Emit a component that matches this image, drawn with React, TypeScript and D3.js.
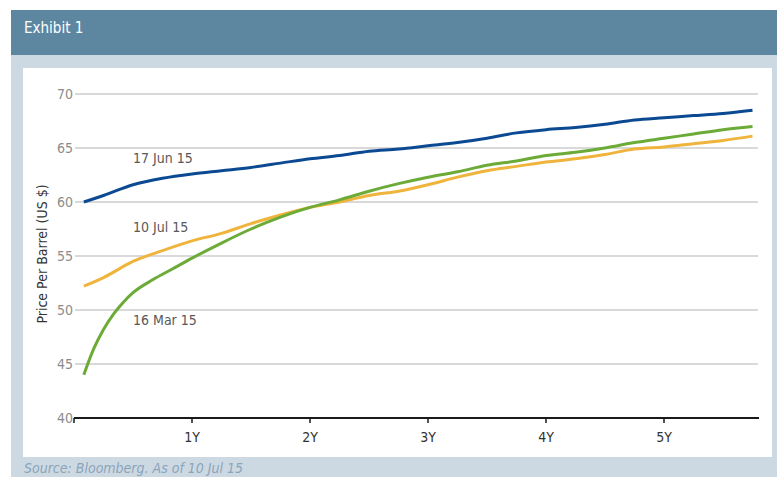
import * as d3 from "d3";
import { useEffect, useRef } from "react";

// contract month (months out from spot) and settlement curves, US$ per barrel
const months17Jun = [1, 3, 6, 9, 12, 15, 18, 21, 24, 27, 30, 33, 36, 39, 42, 45, 48, 51, 54, 57, 60, 63, 66, 69];
const prices17Jun = [60.0, 60.6, 61.6, 62.2, 62.6, 62.9, 63.2, 63.6, 64.0, 64.3, 64.7, 64.9, 65.2, 65.5, 65.9, 66.4, 66.7, 66.9, 67.2, 67.6, 67.8, 68.0, 68.2, 68.5];

const months10Jul = [1, 3, 6, 9, 12, 15, 18, 21, 24, 27, 30, 33, 36, 39, 42, 45, 48, 51, 54, 57, 60, 63, 66, 69];
const prices10Jul = [52.2, 53.0, 54.5, 55.5, 56.4, 57.1, 58.0, 58.8, 59.5, 60.0, 60.6, 61.0, 61.6, 62.3, 62.9, 63.3, 63.7, 64.0, 64.4, 64.9, 65.1, 65.4, 65.7, 66.1];

const months16Mar = [1, 2, 3, 4, 5, 6, 8, 10, 12, 15, 18, 21, 24, 27, 30, 33, 36, 39, 42, 45, 48, 51, 54, 57, 60, 63, 66, 69];
const prices16Mar = [44.0, 46.4, 48.2, 49.6, 50.7, 51.6, 52.8, 53.8, 54.8, 56.2, 57.5, 58.6, 59.5, 60.2, 61.0, 61.7, 62.3, 62.8, 63.4, 63.8, 64.3, 64.6, 65.0, 65.5, 65.9, 66.3, 66.7, 67.0];

const yTicks = [40, 45, 50, 55, 60, 65, 70];
const xTicks = [12, 24, 36, 48, 60];
const xTickLabels = ["1Y", "2Y", "3Y", "4Y", "5Y"];

const series = [
    { name: "17 Jun 15", months: months17Jun, prices: prices17Jun, color: "#0b4a93", labelAt: [6, 63.6] },
    { name: "10 Jul 15", months: months10Jul, prices: prices10Jul, color: "#efb43c", labelAt: [6, 57.2] },
    { name: "16 Mar 15", months: months16Mar, prices: prices16Mar, color: "#6cab37", labelAt: [6, 48.6] },
];

const condensed = "'DejaVu Sans', sans-serif";

const App = () => {
    const ref = useRef<SVGSVGElement>(null);

    useEffect(() => {
        const width = 777;
        const height = 477;
        const svg = d3.select(ref.current);
        svg.selectChildren().remove();

        // frame: header band, grey surround, white chart panel
        svg.append("rect").attr("x", 0).attr("y", 0).attr("width", width).attr("height", height).attr("fill", "#ffffff");
        svg.append("rect").attr("x", 11).attr("y", 55).attr("width", width - 11).attr("height", height - 55).attr("fill", "#cdd9e2");
        svg.append("rect").attr("x", 11).attr("y", 10).attr("width", width - 11).attr("height", 45).attr("fill", "#5d87a1");
        svg.append("rect").attr("x", 23).attr("y", 68).attr("width", 749).attr("height", 389).attr("fill", "#ffffff");

        const txt = (sel: any, size: number) => sel
            .style("font-family", condensed)
            .style("font-stretch", "condensed")
            .style("font-size", `${size}px`);

        txt(svg.append("text")
            .attr("x", 24).attr("y", 33)
            .attr("fill", "#ffffff"), 15)
            .text("Exhibit 1");

        txt(svg.append("text")
            .attr("x", 24).attr("y", 473)
            .attr("fill", "#8aa4bb"), 14)
            .style("font-style", "italic")
            .text("Source: Bloomberg. As of 10 Jul 15");

        const x = d3.scaleLinear().domain([0, 69]).range([74, 752.5]);
        const y = d3.scaleLinear().domain([40, 70]).range([418, 94]);

        // gridlines
        const g = svg.append("g");
        g.selectAll("line.grid")
            .data(yTicks.filter(d => d > 40))
            .join("line")
            .attr("class", "grid")
            .attr("x1", 75).attr("x2", 758)
            .attr("y1", d => y(d)).attr("y2", d => y(d))
            .attr("stroke", "#d9d9d9")
            .attr("stroke-width", 2);

        // y tick labels
        txt(g.selectAll("text.ytick")
            .data(yTicks)
            .join("text")
            .attr("class", "ytick")
            .attr("x", 73)
            .attr("y", d => y(d))
            .attr("dy", "0.35em")
            .attr("text-anchor", "end")
            .attr("fill", "#8c8c8c"), 14)
            .text(d => d);

        // y axis title
        txt(svg.append("text")
            .attr("transform", `translate(47, 254) rotate(-90)`)
            .attr("text-anchor", "middle")
            .attr("fill", "#333333"), 14)
            .text("Price Per Barrel (US $)");

        // x axis
        g.append("line")
            .attr("x1", 74).attr("x2", 759)
            .attr("y1", y(40)).attr("y2", y(40))
            .attr("stroke", "#1a1a1a")
            .attr("stroke-width", 2);
        g.selectAll("line.xtick")
            .data([0, ...xTicks])
            .join("line")
            .attr("class", "xtick")
            .attr("x1", d => x(d)).attr("x2", d => x(d))
            .attr("y1", y(40)).attr("y2", y(40) + 5)
            .attr("stroke", "#1a1a1a")
            .attr("stroke-width", 1.5);
        txt(g.selectAll("text.xlabel")
            .data(xTicks)
            .join("text")
            .attr("class", "xlabel")
            .attr("x", d => x(d))
            .attr("y", 442)
            .attr("text-anchor", "middle")
            .attr("fill", "#333333"), 14)
            .text((d, i) => xTickLabels[i]);

        // the three curves
        const line = d3.line<[number, number]>()
            .x(d => x(d[0]))
            .y(d => y(d[1]))
            .curve(d3.curveMonotoneX);

        series.forEach(s => {
            const pts = s.months.map((m, i) => [m, s.prices[i]] as [number, number]);
            svg.append("path")
                .datum(pts)
                .attr("fill", "none")
                .attr("stroke", s.color)
                .attr("stroke-width", 3)
                .attr("stroke-linejoin", "round")
                .attr("d", line);
        });

        // curve labels
        txt(svg.selectAll("text.series-label")
            .data(series)
            .join("text")
            .attr("class", "series-label")
            .attr("x", d => x(d.labelAt[0]))
            .attr("y", d => y(d.labelAt[1]))
            .attr("fill", "#595959"), 14)
            .text(d => d.name);
    });

    return (
        <svg ref={ref} width={777} height={477}
            style={{ position: "absolute", left: 0, top: 0, display: "block" }} />
    );
};

export default App;
